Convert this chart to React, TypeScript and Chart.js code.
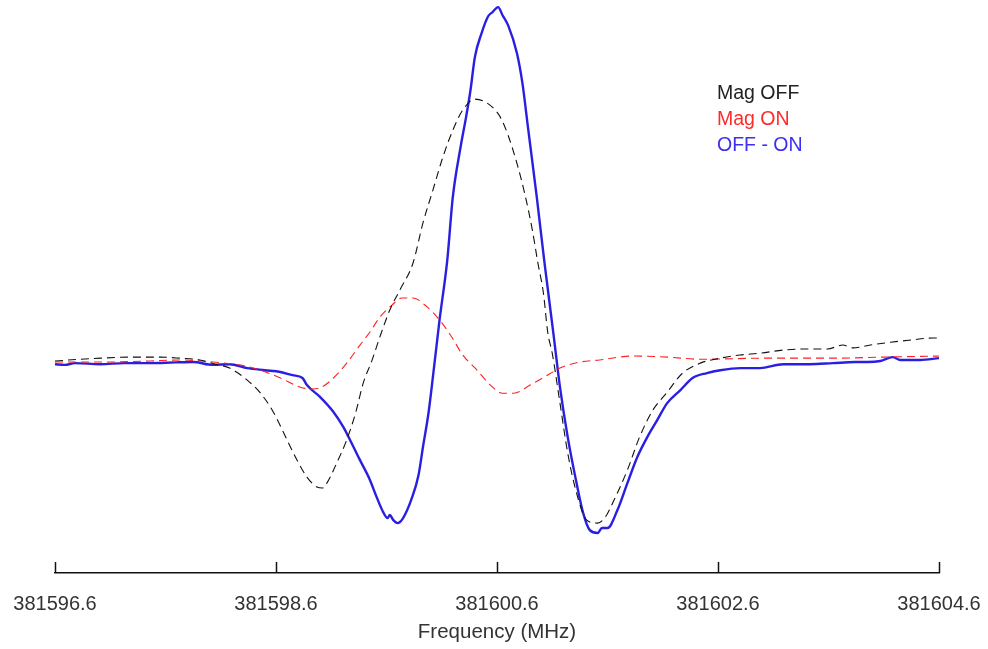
import React, { useEffect, useRef } from "react";
import { Chart, registerables } from "chart.js";

Chart.register(...registerables);

// Frequency axis (MHz)
const tickFreqs = [381596.6, 381598.6, 381600.6, 381602.6, 381604.6];
const xTitle = "Frequency (MHz)";

// OFF - ON (solid blue)
const diffFreq = [
  381596.6, 381596.69, 381596.78, 381597.01, 381597.23, 381597.46, 381597.69, 381597.85, 381598.03, 381598.18,
  381598.34, 381598.5, 381598.64, 381598.75, 381598.84, 381598.88, 381599.0, 381599.12, 381599.21, 381599.27,
  381599.36, 381599.45, 381599.51, 381599.57, 381599.61, 381599.63, 381599.66, 381599.7, 381599.75, 381599.83,
  381599.89, 381599.93, 381599.98, 381600.02, 381600.08, 381600.15, 381600.2, 381600.27, 381600.32, 381600.36,
  381600.4, 381600.46, 381600.52, 381600.56, 381600.61, 381600.65, 381600.7, 381600.78, 381600.83, 381600.88,
  381600.96, 381601.03, 381601.11, 381601.17, 381601.24, 381601.32, 381601.38, 381601.44, 381601.51, 381601.55,
  381601.6, 381601.69, 381601.78, 381601.87, 381601.96, 381602.05, 381602.14, 381602.26, 381602.37, 381602.5,
  381602.62, 381602.8, 381602.98, 381603.19, 381603.43, 381603.64, 381603.84, 381603.95, 381604.07, 381604.18,
  381604.25, 381604.43, 381604.6,
];
const diffValues = [
  -0.6, -0.8, -0.3, -0.6, -0.3, -0.3, -0.1, 0, -0.8, -0.6,
  -1.7, -2.3, -2.8, -3.7, -4.5, -6.5, -9.9, -14.1, -18.4, -22.0,
  -27.7, -33.3, -38.1, -42.4, -44.1, -43.2, -44.6, -45.5, -44.1, -38.4,
  -31.9, -24.0, -14.4, -4.2, 11.9, 28.8, 46.6, 60.7, 69.2, 76.8,
  86.2, 92.9, 97.7, 98.9, 100.3, 98.0, 95.2, 87.3, 78.8, 66.4,
  46.6, 28.0, 8.2, -7.1, -21.2, -34.2, -42.7, -47.5, -48.3, -46.9,
  -46.9, -41.8, -34.2, -26.8, -21.2, -16.4, -11.6, -7.9, -4.5, -3.1,
  -2.3, -1.7, -1.7, -0.6, -0.6, -0.3, 0, 0, 0.3, 1.4,
  0.6, 0.6, 1.1,
];

// Mag OFF (black dashed)
const offFreq = [
  381596.6, 381596.83, 381597.01, 381597.28, 381597.55, 381597.73, 381597.91, 381598.05, 381598.18, 381598.34,
  381598.46, 381598.57, 381598.7, 381598.79, 381598.88, 381598.97, 381599.02, 381599.06, 381599.15, 381599.24,
  381599.32, 381599.39, 381599.47, 381599.54, 381599.63, 381599.72, 381599.84, 381599.93, 381600.02, 381600.11,
  381600.2, 381600.29, 381600.4, 381600.51, 381600.63, 381600.7, 381600.78, 381600.85, 381600.92, 381600.97,
  381601.02, 381601.06, 381601.1, 381601.17, 381601.24, 381601.32, 381601.41, 381601.51, 381601.58, 381601.65,
  381601.78, 381601.89, 381602.01, 381602.14, 381602.28, 381602.44, 381602.62, 381602.8, 381602.98, 381603.19,
  381603.39, 381603.59, 381603.73, 381603.82, 381603.98, 381604.16, 381604.34, 381604.55, 381604.6,
];
const offValues = [
  0.3, 0.8, 1.1, 1.4, 1.4, 1.1, 0.6, -0.6, -1.7, -5.1,
  -8.8, -13.8, -22.0, -27.7, -32.5, -35.3, -35.6, -34.2, -28.5, -22.0,
  -14.4, -5.9, 0.6, 7.1, 14.7, 20.3, 28.0, 39.3, 48.6, 57.9,
  65.5, 71.2, 74.3, 73.2, 69.2, 64.1, 56.2, 47.7, 37.3, 28.0,
  19.5, 8.2, 2.5, -11.6, -25.7, -37.0, -44.6, -45.5, -43.8, -39.6,
  -30.5, -21.2, -13.6, -8.5, -3.1, -0.3, 1.1, 2.0, 2.5, 3.4,
  3.7, 3.7, 4.8, 4.0, 4.8, 5.6, 6.2, 6.8, 6.8,
];

// Mag ON (red dashed)
const onFreq = [
  381596.6, 381597.01, 381597.46, 381597.73, 381598.03, 381598.27, 381598.46, 381598.64, 381598.82, 381598.93,
  381599.0, 381599.12, 381599.24, 381599.36, 381599.45, 381599.54, 381599.65, 381599.74, 381599.84, 381599.97,
  381600.08, 381600.19, 381600.29, 381600.42, 381600.54, 381600.65, 381600.75, 381600.9, 381601.03, 381601.17,
  381601.35, 381601.53, 381601.83, 381602.14, 381602.44, 381603.04, 381603.64, 381604.09, 381604.6,
];
const onValues = [
  0, 0, 0.3, 0.6, 0, -0.8, -2.3, -4.5, -7.1, -7.6,
  -7.3, -4.5, -0.3, 4.8, 8.5, 12.7, 16.1, 18.1, 18.1, 15.5,
  11.9, 7.1, 2.0, -2.3, -6.5, -8.8, -8.8, -6.5, -4.2, -1.7,
  0, 0.6, 1.7, 1.4, 0.8, 1.1, 1.1, 1.4, 1.7,
];

const seriesLabels = ["Mag OFF", "Mag ON", "OFF - ON"];
const lineColors = ["#111111", "#ff2020", "#2a1fe0"];
const textColors = ["#222222", "#ff2a2a", "#3d2ff0"];

const zip = (xs: number[], ys: number[]) => xs.map((x, i) => ({ x, y: ys[i] }));

const FONT = "'Liberation Sans', Arial, Helvetica, sans-serif";

const upTicksPlugin = {
  id: "upTicks",
  afterDraw(chart: any) {
    const { ctx } = chart;
    const xs = chart.scales.x;
    const y0 = chart.chartArea.bottom;
    ctx.save();
    ctx.strokeStyle = "#111";
    ctx.lineWidth = 1.5;
    tickFreqs.forEach((f) => {
      const px = Math.round(xs.getPixelForValue(f)) + 0.5;
      ctx.beginPath();
      ctx.moveTo(px, y0);
      ctx.lineTo(px, y0 - 11);
      ctx.stroke();
    });
    ctx.restore();
  },
};

const textLegendPlugin = {
  id: "textLegend",
  afterDraw(chart: any) {
    const { ctx } = chart;
    ctx.save();
    ctx.font = `19.5px ${FONT}`;
    ctx.textAlign = "left";
    ctx.textBaseline = "alphabetic";
    seriesLabels.forEach((lab, i) => {
      ctx.fillStyle = textColors[i];
      ctx.fillText(lab, 717, 99 + i * 25.8);
    });
    ctx.restore();
  },
};

export default function App() {
  const ref = useRef<HTMLCanvasElement | null>(null);
  useEffect(() => {
    document.body.style.margin = "0";
    const canvas = ref.current!;
    const chart = new Chart(canvas, {
      type: "line",
      data: {
        datasets: [
          {
            label: seriesLabels[0],
            data: zip(offFreq, offValues),
            borderColor: lineColors[0],
            borderWidth: 1.1,
            borderDash: [8, 5],
            pointRadius: 0,
            cubicInterpolationMode: "monotone",
            fill: false,
          },
          {
            label: seriesLabels[1],
            data: zip(onFreq, onValues),
            borderColor: lineColors[1],
            borderWidth: 1.1,
            borderDash: [8, 5],
            pointRadius: 0,
            cubicInterpolationMode: "monotone",
            fill: false,
          },
          {
            label: seriesLabels[2],
            data: zip(diffFreq, diffValues),
            borderColor: lineColors[2],
            borderWidth: 2.4,
            pointRadius: 0,
            cubicInterpolationMode: "monotone",
            fill: false,
          },
        ],
      },
      options: {
        animation: false,
        responsive: false,
        maintainAspectRatio: false,
        parsing: false,
        layout: { padding: { left: 55, right: 49, top: 0, bottom: 0 } },
        plugins: {
          legend: { display: false },
          tooltip: { enabled: false },
        },
        scales: {
          x: {
            type: "linear",
            min: tickFreqs[0],
            max: tickFreqs[tickFreqs.length - 1],
            grid: { display: false, drawTicks: false },
            border: { display: true, color: "#111", width: 1.5 },
            afterBuildTicks: (scale: any) => {
              scale.ticks = tickFreqs.map((v) => ({ value: v }));
            },
            afterFit: (scale: any) => {
              scale.height = 76;
              scale.paddingLeft = 0;
              scale.paddingRight = 0;
            },
            ticks: {
              autoSkip: false,
              maxRotation: 0,
              padding: 19,
              color: "#333",
              font: { size: 20, family: FONT },
              callback: (v: any) => Number(v).toFixed(1),
            },
            title: {
              display: true,
              text: xTitle,
              color: "#333",
              font: { size: 20.5, family: FONT },
              padding: { top: 0, bottom: 4 },
            },
          },
          y: {
            display: false,
            min: -59.6,
            max: 102.3,
          },
        },
      },
      plugins: [upTicksPlugin, textLegendPlugin],
    } as any);
    return () => chart.destroy();
  }, []);
  return <canvas ref={ref} width={988} height={649} style={{ display: "block" }} />;
}
